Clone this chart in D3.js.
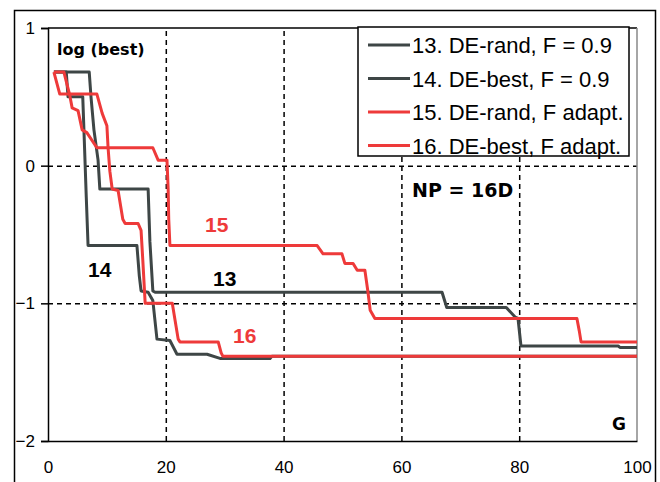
<!DOCTYPE html>
<html><head><meta charset="utf-8">
<script src="https://cdn.jsdelivr.net/npm/d3@7"></script>
<style>body{margin:0;background:#fff}svg{display:block}</style>
</head><body>
<svg id="c" width="660" height="482"></svg>
<script>
// ---- data ----
const xTicks = [0, 20, 40, 60, 80, 100];
const yTicks = [1, 0, -1, -2];
const xGrid = [20, 40, 60, 80];
const yGrid = [0, -1];
const legendLabels = ["13. DE-rand, F = 0.9", "14. DE-best, F = 0.9", "15. DE-rand, F adapt.", "16. DE-best, F adapt."];
const curveLabels = ["13", "14", "15", "16"];

const s13 = [[1,0.68],[7,0.68],[7.3,0.5],[7.8,0.26],[8.5,0.04],[8.8,-0.17],[17,-0.17],[17.3,-0.55],[17.8,-0.91],[18.2,-0.92],[66.9,-0.92],[67.7,-1.03],[77.8,-1.03],[79.3,-1.1],[79.8,-1.11],[80.3,-1.31],[96.8,-1.31],[97.1,-1.32],[100,-1.32]];
const s14 = [[1,0.68],[3.1,0.68],[3.4,0.5],[5.9,0.5],[6.1,0.26],[6.5,-0.23],[6.8,-0.58],[15.1,-0.58],[15.5,-0.8],[15.8,-0.91],[17,-0.92],[17.8,-0.98],[18.5,-1.26],[20.7,-1.27],[21.9,-1.37],[27,-1.37],[29.2,-1.4],[37.7,-1.4],[38,-1.385],[100,-1.385]];
const s15 = [[1,0.68],[2.7,0.68],[3.7,0.51],[4.1,0.42],[5.1,0.4],[5.8,0.26],[6.6,0.24],[8.3,0.13],[17.8,0.13],[18.7,0.04],[20.2,0.04],[20.4,-0.17],[20.5,-0.39],[20.7,-0.58],[45.7,-0.58],[46.7,-0.64],[49.9,-0.64],[50.4,-0.71],[51.8,-0.71],[52.5,-0.76],[53.8,-0.76],[54.3,-0.91],[54.7,-1.05],[55.5,-1.11],[89.8,-1.11],[90.2,-1.2],[90.5,-1.28],[100,-1.28]];
const s16 = [[1,0.68],[2,0.52],[8.3,0.52],[9.2,0.38],[10,0.29],[10.2,0.13],[10.5,-0.04],[10.9,-0.17],[11.9,-0.18],[12.7,-0.39],[13.1,-0.42],[15.3,-0.42],[15.8,-0.47],[16.1,-0.69],[16.5,-1.0],[21.1,-1.0],[21.6,-1.13],[22.1,-1.26],[22.4,-1.28],[28.9,-1.28],[29.4,-1.36],[29.7,-1.385],[100,-1.385]];
const seriesList = [s13, s14, s15, s16];

// ---- styles ----
const DARK = "#3e4646", RED = "#ee3a3a";
const colors = [DARK, DARK, RED, RED];

const svg = d3.select("#c");
const x = d3.scaleLinear().domain([0, 100]).range([48, 637]);
const y = d3.scaleLinear().domain([-2, 1]).range([441, 28]);

// outer frame
svg.append("rect").attr("x", 14.5).attr("y", 10.5).attr("width", 641).attr("height", 490)
  .attr("fill", "#fff").attr("stroke", "#000").attr("stroke-width", 1.5);

// grid
const gx = svg.append("g").attr("transform", `translate(0,${y(-2)})`)
  .call(d3.axisBottom(x).tickValues(xGrid).tickSize(-(y(-2) - y(1))).tickFormat(""));
gx.select(".domain").remove();
gx.selectAll("line").attr("stroke", "#000").attr("stroke-width", 1.5).attr("stroke-dasharray", "5,4");
const gy = svg.append("g").attr("transform", `translate(${x(0)},0)`)
  .call(d3.axisLeft(y).tickValues(yGrid).tickSize(-(x(100) - x(0))).tickFormat(""));
gy.select(".domain").remove();
gy.selectAll("line").attr("stroke", "#000").attr("stroke-width", 1.5).attr("stroke-dasharray", "5,4");

// plot frame top/right
svg.append("line").attr("x1", x(0)).attr("x2", x(100)).attr("y1", y(1)).attr("y2", y(1))
  .attr("stroke", "#000").attr("stroke-width", 1.5);
svg.append("line").attr("x1", x(100)).attr("x2", x(100)).attr("y1", y(1)).attr("y2", y(-2))
  .attr("stroke", "#888").attr("stroke-width", 1.5);

// y axis
const ya = svg.append("g").attr("transform", `translate(${x(0)},0)`)
  .call(d3.axisLeft(y).tickValues(yTicks).tickSize(7).tickPadding(6).tickFormat(d3.format("d")));
ya.select(".domain").attr("stroke", "#000").attr("stroke-width", 1.5);
ya.selectAll("line").attr("stroke", "#000").attr("stroke-width", 1.5);
ya.selectAll("text").attr("font-family", "Liberation Sans, Arial, sans-serif").attr("font-size", 17).attr("fill", "#000");

// x axis
const xa = svg.append("g").attr("transform", `translate(0,${y(-2)})`)
  .call(d3.axisBottom(x).tickValues(xTicks).tickSize(0).tickPadding(20));
xa.select(".domain").attr("stroke", "#000").attr("stroke-width", 1.5);
xa.selectAll("text").attr("font-family", "Liberation Sans, Arial, sans-serif").attr("font-size", 17).attr("fill", "#000");

// curves
const line = d3.line().x(d => x(d[0])).y(d => y(d[1]));
svg.append("g").selectAll("path").data(seriesList).join("path")
  .attr("d", line).attr("fill", "none")
  .attr("stroke", (d, i) => colors[i]).attr("stroke-width", 3)
  .attr("stroke-linejoin", "round");

// annotations
const boldFont = "DejaVu Sans, sans-serif";
svg.append("text").attr("x", 57).attr("y", 55).attr("font-family", boldFont)
  .attr("font-weight", "bold").attr("font-size", 16).text("log (best)");
svg.append("text").attr("x", 412).attr("y", 197).attr("font-family", boldFont)
  .attr("font-weight", "bold").attr("font-size", 19).text("NP = 16D");
svg.append("text").attr("x", 612).attr("y", 430).attr("font-family", boldFont)
  .attr("font-weight", "bold").attr("font-size", 17).text("G");

const labelPos = [[213, 286], [88, 277], [205, 232], [233, 343]];
svg.append("g").selectAll("text").data(curveLabels).join("text")
  .attr("x", (d, i) => labelPos[i][0]).attr("y", (d, i) => labelPos[i][1])
  .attr("font-family", "Liberation Sans, Arial, sans-serif").attr("font-weight", "bold")
  .attr("font-size", 21).attr("fill", (d, i) => i === 0 || i === 1 ? "#000" : RED)
  .text(d => d);

// legend
const lg = svg.append("g");
lg.append("rect").attr("x", 358).attr("y", 27).attr("width", 271).attr("height", 129)
  .attr("fill", "#fff").attr("stroke", "#000").attr("stroke-width", 1.5);
const rows = lg.selectAll("g.row").data(legendLabels).join("g").attr("class", "row")
  .attr("transform", (d, i) => `translate(0,${45 + i * 33.5})`);
rows.append("line").attr("x1", 368).attr("x2", 410).attr("y1", 0).attr("y2", 0)
  .attr("stroke", (d, i) => colors[i]).attr("stroke-width", 3);
rows.append("text").attr("x", 412).attr("y", 8).attr("font-family", "Liberation Sans, Arial, sans-serif")
  .attr("font-size", 22).attr("fill", "#000").text(d => d);
</script>
</body></html>
